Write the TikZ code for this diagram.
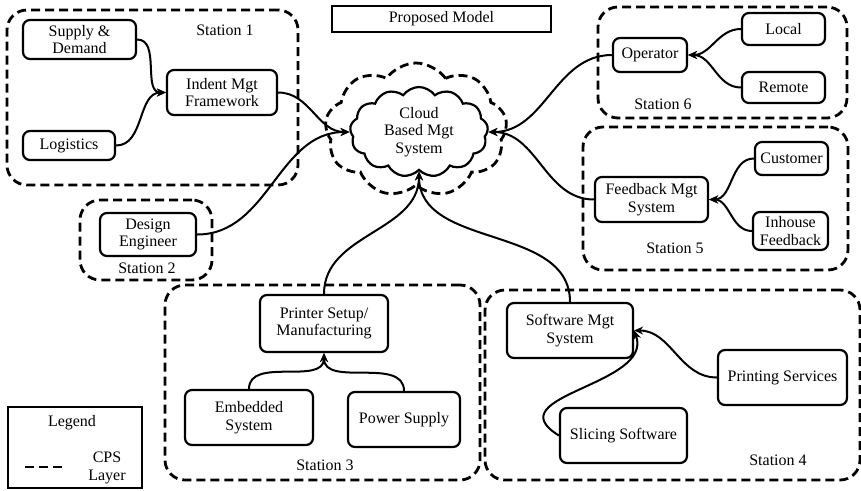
\documentclass[tikz,border=0pt]{standalone}
\usepackage{fontspec}
\setmainfont{Liberation Serif}
\usetikzlibrary{shapes.symbols, arrows.meta}

\begin{document}
\begin{tikzpicture}[x=1pt, y=1pt,
    every node/.style={font=\fontsize{16}{17.5}\selectfont, align=center, inner sep=0pt},
    box/.style={draw, line width=2.2pt, rounded corners=7pt},
    station/.style={draw, line width=2.8pt, dash pattern=on 9pt off 5pt, rounded corners=20pt},
    link/.style={line width=2pt, -{Stealth[length=9pt, width=8pt]}}]
    \useasboundingbox (0,0) rectangle (861,-490);
    % stations
    \node [station, minimum width=291, minimum height=175] (st1) at (152.5,-97.5) {};
    \node [station, minimum width=132, minimum height=80] (st2) at (146,-240) {};
    \node [station, minimum width=315, minimum height=195] (st3) at (322.5,-382.5) {};
    \node [station, minimum width=375, minimum height=190] (st4) at (672.5,-385) {};
    \node [station, minimum width=265, minimum height=143] (st5) at (715.5,-198.5) {};
    \node [station, minimum width=249, minimum height=111] (st6) at (722.5,-62.5) {};
    \node (lbl1) at (225,-30) {Station 1};
    \node (lbl2) at (147,-268) {Station 2};
    \node (lbl3) at (325,-465) {Station 3};
    \node (lbl4) at (778,-460) {Station 4};
    \node (lbl5) at (675,-248) {Station 5};
    \node (lbl6) at (663,-104) {Station 6};
    % title
    \node [draw, line width=2.2pt, minimum width=219, minimum height=26] (title) at (441.5,-19) {Proposed Model};
    % cloud
    \node [cloud, draw, station, rounded corners=0pt, cloud puffs=9, cloud puff arc=110, cloud ignores aspect,
        minimum width=182, minimum height=134] (cpslayer) at (416,-130) {};
    \node [cloud, draw, line width=2.2pt, cloud puffs=13, cloud puff arc=110, cloud ignores aspect,
        minimum width=138, minimum height=90, fill=white] (cloud) at (419,-132) {Cloud\\Based Mgt\\System};
    % station 1
    \node [box, minimum width=113, minimum height=39] (supply) at (79.5,-39.5) {Supply \&\\Demand};
    \node [box, minimum width=110, minimum height=45] (indent) at (222,-92.5) {Indent Mgt\\Framework};
    \node [box, minimum width=92, minimum height=29] (logistics) at (69,-145.5) {Logistics};
    % station 2
    \node [box, minimum width=96, minimum height=43] (design) at (148,-234.5) {Design\\Engineer};
    % station 6
    \node [box, minimum width=74, minimum height=34] (operator) at (650,-55) {Operator};
    \node [box, minimum width=83, minimum height=32] (local) at (783.5,-29) {Local};
    \node [box, minimum width=83, minimum height=31] (remote) at (783.5,-87.5) {Remote};
    % station 5
    \node [box, minimum width=113, minimum height=45] (feedback) at (651.5,-199.5) {Feedback Mgt\\System};
    \node [box, minimum width=73, minimum height=33] (customer) at (791.5,-158.5) {Customer};
    \node [box, minimum width=75, minimum height=38] (inhouse) at (790.5,-231) {Inhouse\\Feedback};
    % station 3
    \node [box, minimum width=128, minimum height=57] (printer) at (324,-323.5) {Printer Setup/\\Manufacturing};
    \node [box, minimum width=128, minimum height=55] (embedded) at (249,-417.5) {Embedded\\System};
    \node [box, minimum width=112, minimum height=55] (power) at (404,-419.5) {Power Supply};
    % station 4
    \node [box, minimum width=126, minimum height=55] (software) at (570,-330.5) {Software Mgt\\System};
    \node [box, minimum width=129, minimum height=55] (printing) at (782.5,-377.5) {Printing Services};
    \node [box, minimum width=127, minimum height=55] (slicing) at (623.5,-435.5) {Slicing Software};
    % legend
    \node [draw, line width=2.2pt, minimum width=134, minimum height=81] (legend) at (75,-447.5) {};
    \node (legendtitle) at (72,-423) {Legend};
    \coordinate (dashA) at (25,-467);
    \coordinate (dashB) at (63,-467);
    \draw [line width=2.8pt, dash pattern=on 9pt off 5pt] (dashA) -- (dashB);
    \node (cpstext) at (107,-468) {CPS\\Layer};
    % links
    \draw [link] (supply.east) to[out=0, in=180] (indent.west);
    \draw [link] (logistics.east) to[out=0, in=180] (indent.west);
    \draw [link] (indent.east) to[out=0, in=180] (cloud.west);
    \draw [link] (design.east) to[out=0, in=180] (cloud.west);
    \draw [link] (operator.west) to[out=180, in=0] (cloud.east);
    \draw [link] (feedback.west) to[out=180, in=0] (cloud.east);
    \draw [link] (printer.north) to[out=90, in=-90] (cloud.south);
    \draw [link] (software.north) to[out=90, in=-90] (cloud.south);
    \draw [link] (local.west) to[out=180, in=0] (operator.east);
    \draw [link] (remote.west) to[out=180, in=0] (operator.east);
    \draw [link] (customer.west) to[out=180, in=0] (feedback.east);
    \draw [link] (inhouse.west) to[out=180, in=0] (feedback.east);
    \draw [link] (embedded.north) to[out=90, in=-90] (printer.south);
    \draw [link] (power.north) to[out=90, in=-90] (printer.south);
    \draw [link] (printing.west) to[out=180, in=0] (software.east);
    \draw [link] (slicing.west) .. controls +(-65,40) and +(20,-55) .. (software.east);
\end{tikzpicture}
\end{document}
